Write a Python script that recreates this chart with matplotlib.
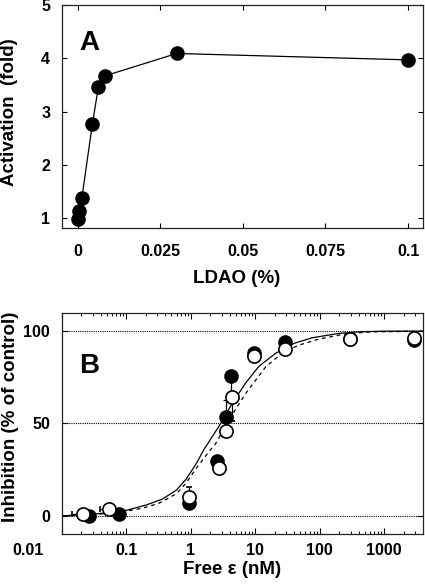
import matplotlib
matplotlib.use("Agg")
import matplotlib.pyplot as plt
from matplotlib.transforms import ScaledTranslation
from matplotlib.ticker import LogLocator, NullFormatter, FixedLocator

plt.rcParams['font.family'] = ['Liberation Sans', 'DejaVu Sans']
plt.rcParams['font.weight'] = 'bold'

# ---------------- Panel A data ----------------
ldao_x = [0, 0.0005, 0.0013, 0.0045, 0.0063, 0.0083, 0.030, 0.100]
activation_y = [0.99, 1.14, 1.38, 2.77, 3.46, 3.67, 4.09, 3.97]
a_xticks = [0, 0.025, 0.05, 0.075, 0.1]
a_xticklabels = ["0", "0.025", "0.05", "0.075", "0.1"]
a_yticks = [1, 2, 3, 4, 5]

# ---------------- Panel B data ----------------
filled_x = [0.026, 0.078, 0.92, 2.58, 3.48, 4.26, 9.55, 28.5, 290, 2860]
filled_y = [0.0, 1.0, 6.8, 29.9, 53.7, 75.7, 88.0, 93.9, 95.5, 95.1]
filled_yerr_lo = [0, 0, 0, 0, 0, 11.2, 0, 0, 0, 0]
filled_yerr_hi = [0, 0, 0, 0, 9.0, 0, 0, 0, 0, 0]

open_x = [0.021, 0.053, 0.92, 2.74, 3.48, 4.42, 9.55, 28.5, 290, 2860]
open_y = [1.0, 3.6, 10.1, 26.1, 46.0, 64.5, 86.5, 90.6, 95.5, 96.4]
open_yerr_lo = [0, 0, 0, 0, 0, 13.0, 0, 0, 0, 0]
open_yerr_hi = [0, 0, 5.7, 0, 0, 0, 0, 0, 0, 0]
open_xerr_lo = [0.0065, 0.014, 0, 0, 0, 0, 0, 0, 0, 0]

solid_x = [0.01, 0.015, 0.038, 0.1, 0.2, 0.36, 0.6, 0.85, 1.2, 1.6, 2.16, 2.9,
           4.4, 7.1, 11.4, 20.7, 40, 76, 200, 400, 1000, 4000]
solid_y = [0, 0.3, 1.2, 3.0, 5.8, 9.0, 14.0, 20.0, 28.0, 36.0, 43.0, 50.0,
           61.0, 72.0, 81.0, 88.0, 93.4, 96.4, 98.8, 99.6, 100, 100]
dashed_x = [0.01, 0.015, 0.04, 0.1, 0.18, 0.32, 0.6, 0.84, 1.2, 1.7, 2.44, 3.9,
            7.1, 14.5, 26, 47, 97, 250, 600, 4000]
dashed_y = [0, 0.3, 1.0, 2.5, 4.2, 6.8, 12.0, 17.7, 25.5, 32.5, 39.3, 52.0,
            66.3, 80.7, 88.0, 92.4, 95.7, 98.5, 99.6, 100]
b_yticks = [0, 50, 100]
b_xticks = [0.01, 0.1, 1, 10, 100, 1000]
b_xticklabels = ["0.01", "0.1", "1", "10", "100", "1000"]

fig = plt.figure(figsize=(4.25, 5.85), dpi=100)

tick_fs = 11.5
label_fs = 13.5
letter_fs = 20

# ---------------- Panel A ----------------
axA = fig.add_axes([0.1459, 0.6097, 0.8494, 0.3818])
axA.plot(ldao_x, activation_y, '-', color='black', lw=0.9, zorder=2)
axA.plot(ldao_x, activation_y, 'o', color='black', ms=9.5, zorder=3, clip_on=False)
axA.set_xlim(-0.0047, 0.1045)
axA.set_ylim(0.81, 5.0)
axA.set_xticks(a_xticks)
axA.set_xticklabels(a_xticklabels)
axA.set_yticks(a_yticks)
axA.tick_params(direction='in', top=True, right=True, length=3.5, width=0.8,
                labelsize=tick_fs)
axA.tick_params(axis='x', pad=11)
axA.tick_params(axis='y', pad=8.5)
axA.set_xlabel("LDAO (%)", fontsize=label_fs, fontweight='bold')
axA.set_ylabel("Activation  (fold)", fontsize=label_fs, fontweight='bold')
axA.xaxis.set_label_coords(0.484, -0.185)
axA.yaxis.set_label_coords(-0.122, 0.52)
axA.text(0.048, 0.798, "A", transform=axA.transAxes, fontsize=letter_fs,
         fontweight='bold', ha='left', va='baseline')

# ---------------- Panel B ----------------
axB = fig.add_axes([0.1459, 0.0867, 0.8494, 0.3788])
axB.set_xscale('log')
axB.set_xlim(0.01, 4000)
axB.set_ylim(-10, 110)
for yv in b_yticks:
    axB.axhline(yv, color='black', lw=0.8, linestyle=(0, (1, 1)), zorder=1)
axB.plot(solid_x, solid_y, '-', color='black', lw=0.9, zorder=2)
axB.plot(dashed_x, dashed_y, color='black', lw=0.9, linestyle=(0, (3, 3)), zorder=2)

axB.errorbar(filled_x, filled_y, yerr=[filled_yerr_lo, filled_yerr_hi],
             fmt='o', color='black', mfc='black', mec='black', ms=9.5,
             elinewidth=0.9, capsize=2.5, capthick=0.9, zorder=3)
axB.errorbar(open_x, open_y, yerr=[open_yerr_lo, open_yerr_hi],
             xerr=[open_xerr_lo, [0] * len(open_x)],
             fmt='o', color='black', mfc='white', mec='black', mew=1.2, ms=9.5,
             elinewidth=0.9, capsize=2.5, capthick=0.9, zorder=4)

axB.set_yticks(b_yticks)
axB.xaxis.set_major_locator(FixedLocator(b_xticks))
axB.set_xticklabels(b_xticklabels)
axB.xaxis.set_minor_locator(LogLocator(base=10, subs=range(2, 10), numticks=20))
axB.xaxis.set_minor_formatter(NullFormatter())
axB.tick_params(which='major', direction='in', top=True, right=True, length=4,
                width=0.8, labelsize=tick_fs)
axB.tick_params(which='minor', direction='in', top=True, right=True, length=2,
                width=0.7)
axB.tick_params(axis='x', which='major', pad=6.0)
axB.tick_params(axis='y', pad=8.5)
axB.set_xlabel("Free ε (nM)", fontsize=label_fs, fontweight='bold')
axB.set_ylabel("Inhibition (% of control)", fontsize=label_fs, fontweight='bold')
axB.xaxis.set_label_coords(0.471, -0.12)
axB.yaxis.set_label_coords(-0.120, 0.53)
axB.text(0.048, 0.729, "B", transform=axB.transAxes, fontsize=letter_fs,
         fontweight='bold', ha='left', va='baseline')

for ax in (axA, axB):
    for sp in ax.spines.values():
        sp.set_linewidth(0.9)
        sp.set_color('#222222')

fig.canvas.draw()
first = axB.get_xticklabels()[0]
first.set_transform(first.get_transform() +
                    ScaledTranslation(-34 / 100, 0, fig.dpi_scale_trans))

fig.savefig("out.png", dpi=100)
